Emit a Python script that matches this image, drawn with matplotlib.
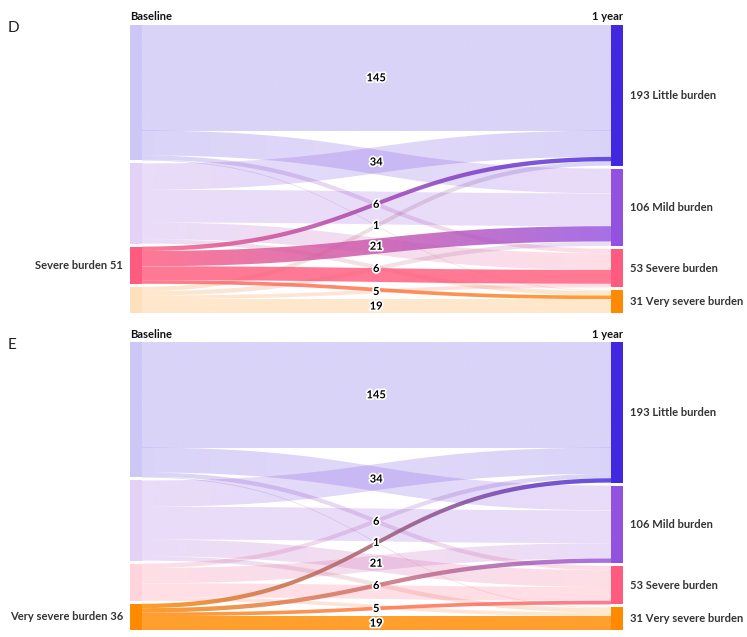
import numpy as np
import matplotlib
matplotlib.use('Agg')
import matplotlib.pyplot as plt
from matplotlib.path import Path
from matplotlib.patches import PathPatch, Rectangle
from matplotlib.colors import to_rgb
import matplotlib.patheffects as pe

stages = ['Baseline', '1 year']
categories = ['Little burden', 'Mild burden', 'Severe burden', 'Very severe burden']
# rows = category at baseline, columns = category at 1 year
flows = [
    [145, 34, 6, 1],
    [36, 45, 23, 6],
    [6, 21, 19, 5],
    [6, 6, 5, 19],
]
node_colors = ['#4127e0', '#9351e0', '#ff5b7e', '#ff8a00']
# links whose value gets printed (the rest are hidden by overlap in the original)
labelled_links = [(0, 0), (0, 1), (0, 2), (0, 3), (2, 1), (3, 1), (3, 2), (3, 3)]
panel_letters = ['D', 'E']
panel_highlight = [2, 3]   # baseline node picked out in each panel

plt.rcParams['font.family'] = ['Lato', 'DejaVu Sans']

W, H = 747, 637
fig = plt.figure(figsize=(W / 100, H / 100), dpi=100)
ax = fig.add_axes([0, 0, 1, 1])

flows = np.array(flows)
out_tot = flows.sum(axis=1)
in_tot = flows.sum(axis=0)
n = len(categories)

x_src, x_tgt, node_w = 130, 611, 11.5
gap = 3
panel_h = 288
panel_tops = [25, 342]
k = (panel_h - gap * (n - 1)) / flows.sum()


def stack(totals, top):
    return top + np.concatenate([[0], np.cumsum(totals)[:-1]]) * k + np.arange(len(totals)) * gap


def draw_link(xa, xb, ya, yb, h, c0, c1, alpha, z):
    t = np.linspace(0, 1, 100)
    xm = (xa + xb) / 2
    bx = (1 - t)**3 * xa + 3 * (1 - t)**2 * t * xm + 3 * (1 - t) * t**2 * xm + t**3 * xb
    by = ((1 - t)**3 + 3 * (1 - t)**2 * t) * ya + (3 * (1 - t) * t**2 + t**3) * yb
    verts = np.vstack([np.column_stack([bx, by]),
                       np.column_stack([bx[::-1], by[::-1] + h])])
    verts = np.vstack([verts, verts[:1]])
    patch = PathPatch(Path(verts), fc='none', ec='none')
    ax.add_patch(patch)
    g = np.linspace(0, 1, 256)[None, :, None]
    rgb = (1 - g) * np.array(to_rgb(c0)) + g * np.array(to_rgb(c1))
    img = np.concatenate([rgb, np.full((1, 256, 1), alpha)], axis=2)
    im = ax.imshow(img, extent=(xa, xb, max(ya, yb) + h, min(ya, yb)),
                   aspect='auto', interpolation='bilinear', zorder=z)
    im.set_clip_path(patch)


txt = dict(fontsize=8, fontweight='bold', color='#333333')

for letter, hl, top in zip(panel_letters, panel_highlight, panel_tops):
    src_start = stack(out_tot, top)
    tgt_start = stack(in_tot, top)

    for i in range(n):
        for j in range(n):
            v = flows[i, j]
            ya = src_start[i] + k * flows[i, :j].sum()
            yb = tgt_start[j] + k * flows[:i, j].sum()
            h = k * v
            on = i == hl
            draw_link(x_src + node_w, x_tgt, ya, yb, h, node_colors[i], node_colors[j],
                      0.82 if on else 0.2, 3 if on else 1)
            if (i, j) in labelled_links:
                ax.text((x_src + node_w + x_tgt) / 2, (ya + yb + h) / 2, str(v),
                        ha='center', va='center', fontsize=8, fontweight='bold',
                        color='black', zorder=6,
                        path_effects=[pe.withStroke(linewidth=2.5, foreground='white')])

    for i in range(n):
        ax.add_patch(Rectangle((x_src, src_start[i]), node_w, k * out_tot[i],
                               color=node_colors[i], alpha=1 if i == hl else 0.26,
                               lw=0, zorder=4))
        ax.add_patch(Rectangle((x_tgt, tgt_start[i]), node_w, k * in_tot[i],
                               color=node_colors[i], lw=0, zorder=4))
        ax.text(x_tgt + node_w + 7, tgt_start[i] + k * in_tot[i] / 2,
                f'{in_tot[i]} {categories[i]}', ha='left', va='center', **txt)

    ax.text(x_src - 7, src_start[hl] + k * out_tot[hl] / 2,
            f'{categories[hl]} {out_tot[hl]}', ha='right', va='center', **txt)
    ax.text(x_src, top - 8, stages[0], ha='left', va='center', fontsize=8,
            fontweight='bold', color='#111111')
    ax.text(x_tgt + node_w, top - 8, stages[1], ha='right', va='center', fontsize=8,
            fontweight='bold', color='#111111')
    ax.text(8, top + 3, letter, ha='left', va='center', fontsize=11, color='#222222')

ax.set_xlim(0, W)
ax.set_ylim(H, 0)
ax.axis('off')
fig.savefig('out.png', dpi=100)
